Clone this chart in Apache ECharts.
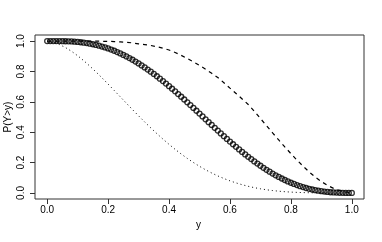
<!DOCTYPE html>
<html>
<head>
<meta charset="utf-8">
<script src="https://cdn.jsdelivr.net/npm/echarts@6/dist/echarts.min.js"></script>
<style>html,body{margin:0;padding:0;background:#fff;}#c{width:382px;height:242px;}</style>
</head>
<body>
<div id="c"></div>
<script>
var tickValues = [0, 0.2, 0.4, 0.6, 0.8, 1.0];
var pointX = [0,0.01,0.02,0.03,0.04,0.05,0.06,0.07,0.08,0.09,0.10,0.11,0.12,0.13,0.14,0.15,0.16,0.17,0.18,0.19,0.20,0.21,0.22,0.23,0.24,0.25,0.26,0.27,0.28,0.29,0.30,0.31,0.32,0.33,0.34,0.35,0.36,0.37,0.38,0.39,0.40,0.41,0.42,0.43,0.44,0.45,0.46,0.47,0.48,0.49,0.50,0.51,0.52,0.53,0.54,0.55,0.56,0.57,0.58,0.59,0.60,0.61,0.62,0.63,0.64,0.65,0.66,0.67,0.68,0.69,0.70,0.71,0.72,0.73,0.74,0.75,0.76,0.77,0.78,0.79,0.80,0.81,0.82,0.83,0.84,0.85,0.86,0.87,0.88,0.89,0.90,0.91,0.92,0.93,0.94,0.95,0.96,0.97,0.98,0.99,1.00];
var pointY = [1,1,1,0.9999,0.9998,0.9995,0.999,0.9982,0.9974,0.9961,0.9944,0.9922,0.9897,0.9867,0.9832,0.9792,0.9747,0.9697,0.9641,0.958,0.9513,0.944,0.9362,0.9277,0.9187,0.9091,0.899,0.8883,0.877,0.8652,0.8528,0.8399,0.8265,0.8126,0.7983,0.7835,0.7682,0.7525,0.7365,0.7201,0.7033,0.6862,0.6688,0.6512,0.6333,0.6152,0.5969,0.5785,0.5599,0.5412,0.5225,0.5037,0.485,0.4662,0.4475,0.4289,0.4104,0.3921,0.3739,0.3559,0.3382,0.3207,0.3035,0.2866,0.27,0.2538,0.238,0.2226,0.2076,0.193,0.179,0.1654,0.1523,0.1397,0.1277,0.1162,0.1052,0.0949,0.085,0.0758,0.0671,0.0591,0.0516,0.0446,0.0383,0.0325,0.0272,0.0225,0.0183,0.0147,0.0115,0.0088,0.0065,0.0046,0.0031,0.002,0.0011,0.0006,0.0002,0.0001,0];
var lineX = [0,0.02,0.04,0.06,0.08,0.10,0.12,0.14,0.16,0.18,0.20,0.22,0.24,0.26,0.28,0.30,0.32,0.34,0.36,0.38,0.40,0.42,0.44,0.46,0.48,0.50,0.52,0.54,0.56,0.58,0.60,0.62,0.64,0.66,0.68,0.70,0.72,0.74,0.76,0.78,0.80,0.82,0.84,0.86,0.88,0.90,0.92,0.94,0.96,0.98,1.00];
var dashedY = [1,1,1,1,1,0.9999,0.9998,0.9996,0.9993,0.9988,0.998,0.9968,0.995,0.992,0.988,0.982,0.977,0.971,0.963,0.953,0.941,0.925,0.906,0.885,0.863,0.84,0.815,0.788,0.76,0.726,0.69,0.655,0.619,0.582,0.538,0.49,0.443,0.395,0.349,0.303,0.259,0.216,0.176,0.138,0.104,0.075,0.05,0.03,0.016,0.006,0];
var dottedY = [0.999,0.9915,0.9774,0.9575,0.9326,0.9035,0.8708,0.8352,0.7973,0.7576,0.7167,0.6749,0.6328,0.5907,0.5489,0.5077,0.4675,0.4284,0.3907,0.3545,0.3199,0.2871,0.2562,0.2272,0.2003,0.1753,0.1523,0.1312,0.1121,0.0949,0.0796,0.066,0.054,0.0436,0.0347,0.0272,0.0208,0.0156,0.0114,0.0081,0.0055,0.0036,0.0022,0.0013,0.0007,0.0003,0.0001,0,0,0,0];
var xTitle = 'y';
var yTitle = 'P(Y>y)';

function pairs(xs, ys){ return xs.map(function(x,i){ return [x, ys[i]]; }); }
var font = '"Liberation Sans", Arial, Helvetica, sans-serif';
var chart = echarts.init(document.getElementById('c'), null, {renderer:'canvas'});
chart.setOption({
  animation: false,
  backgroundColor: '#fff',
  grid: {left: 35, right: 18, top: 35, bottom: 43, show: true, borderColor: '#333', borderWidth: 1,
    backgroundColor: 'transparent'},
  graphic: [
    {type: 'text', left: 196, top: 220, silent: true,
      style: {text: xTitle, font: '10px ' + font, fill: '#000'}},
    {type: 'text', x: 8, y: 117, rotation: Math.PI / 2, silent: true,
      style: {text: yTitle, font: '10px ' + font, fill: '#000', align: 'center', verticalAlign: 'middle'}}
  ],
  xAxis: {
    type: 'value', min: -0.04, max: 1.04,
    splitLine: {show: false},
    axisLine: {show: false, onZero: false},
    axisTick: {show: true, inside: false, length: 5, customValues: tickValues, lineStyle: {color: '#333'}},
    axisLabel: {customValues: tickValues, margin: 6, fontFamily: font, fontSize: 10, color: '#000',
      formatter: function(v){ return v.toFixed(1); }}
  },
  yAxis: {
    type: 'value', min: -0.04, max: 1.04,
    splitLine: {show: false},
    axisLine: {show: false, onZero: false},
    axisTick: {show: true, inside: false, length: 5, customValues: tickValues, lineStyle: {color: '#333'}},
    axisLabel: {customValues: tickValues, margin: 9, rotate: 90, fontFamily: font, fontSize: 10, color: '#000',
      formatter: function(v){ return v.toFixed(1); }}
  },
  series: [
    {type: 'scatter', data: pairs(pointX, pointY), symbol: 'circle', symbolSize: 5,
      itemStyle: {color: 'rgba(0,0,0,0)', borderColor: '#000', borderWidth: 1.3}, silent: true},
    {type: 'line', data: pairs(lineX, dashedY), showSymbol: false, symbol: 'none',
      lineStyle: {color: '#000', width: 1.2, type: [4, 4]}, silent: true},
    {type: 'line', data: pairs(lineX, dottedY), showSymbol: false, symbol: 'none',
      lineStyle: {color: '#000', width: 1, type: [1, 3]}, silent: true}
  ]
});
</script>
</body>
</html>
